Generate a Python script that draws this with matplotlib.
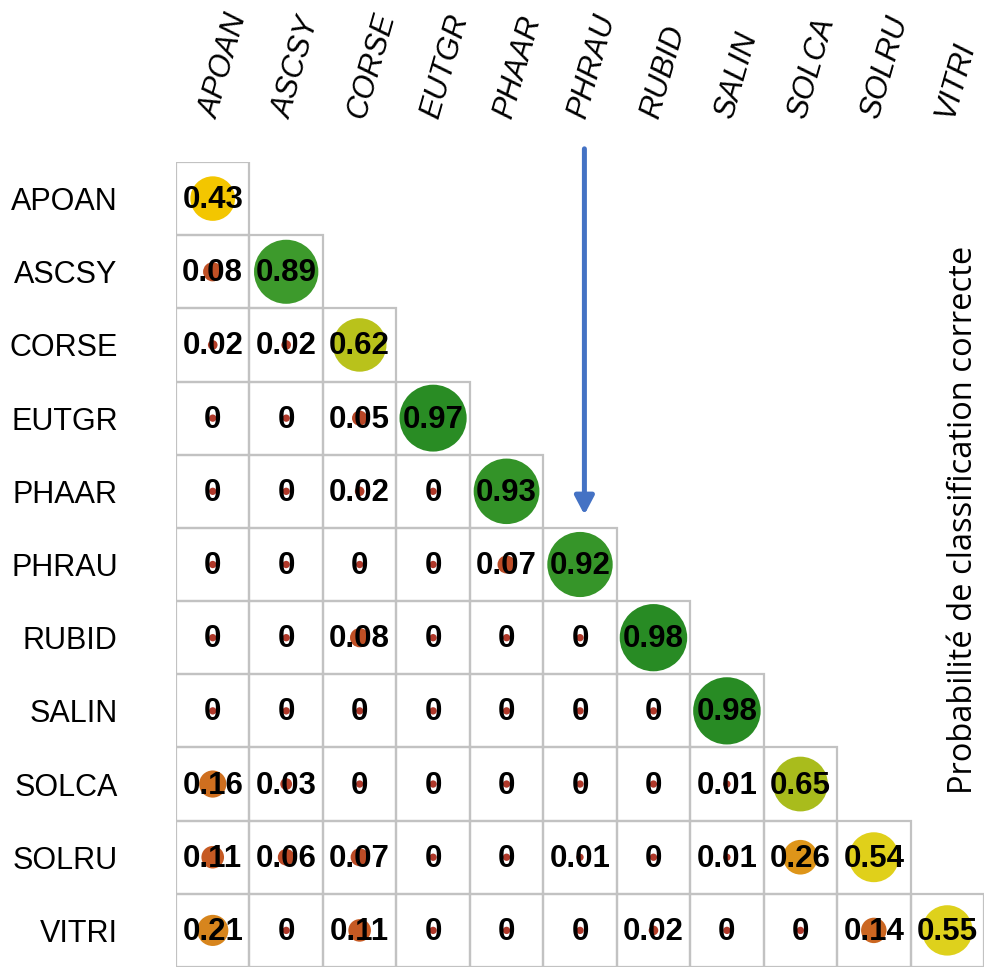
import matplotlib
matplotlib.use("Agg")
import matplotlib.pyplot as plt
from matplotlib.colors import LinearSegmentedColormap
from matplotlib.patches import Circle, Rectangle
import numpy as np

species = ["APOAN", "ASCSY", "CORSE", "EUTGR", "PHAAR", "PHRAU",
           "RUBID", "SALIN", "SOLCA", "SOLRU", "VITRI"]

row_APOAN = [0.43]
row_ASCSY = [0.08, 0.89]
row_CORSE = [0.02, 0.02, 0.62]
row_EUTGR = [0, 0, 0.05, 0.97]
row_PHAAR = [0, 0, 0.02, 0, 0.93]
row_PHRAU = [0, 0, 0, 0, 0.07, 0.92]
row_RUBID = [0, 0, 0.08, 0, 0, 0, 0.98]
row_SALIN = [0, 0, 0, 0, 0, 0, 0, 0.98]
row_SOLCA = [0.16, 0.03, 0, 0, 0, 0, 0, 0.01, 0.65]
row_SOLRU = [0.11, 0.06, 0.07, 0, 0, 0.01, 0, 0.01, 0.26, 0.54]
row_VITRI = [0.21, 0, 0.11, 0, 0, 0, 0.02, 0, 0, 0.14, 0.55]

rows = [row_APOAN, row_ASCSY, row_CORSE, row_EUTGR, row_PHAAR, row_PHRAU,
        row_RUBID, row_SALIN, row_SOLCA, row_SOLRU, row_VITRI]

side_label = "Probabilité de classification correcte"

cmap = LinearSegmentedColormap.from_list("prob", [
    (0.0, "#b0392a"), (0.1, "#c45624"), (0.16, "#d0701f"), (0.22, "#d98a1c"),
    (0.3, "#e3a015"), (0.43, "#f3c600"), (0.55, "#ded11c"), (0.63, "#b3c01b"),
    (0.76, "#78a924"), (0.89, "#3d9a2c"), (1.0, "#238822")])

W, H = 984, 967
fig = plt.figure(figsize=(W / 100, H / 100), dpi=100)
ax = fig.add_axes([176 / W, 0, 808 / W, 805 / H])
n = len(species)
ax.set_xlim(-0.5, n - 0.5)
ax.set_ylim(n - 0.5, -0.5)
for s in ax.spines.values():
    s.set_visible(False)
ax.set_xticks([])
ax.set_yticks(range(n))
ax.set_yticklabels(species, fontsize=22, family="Liberation Sans")
ax.tick_params(axis="y", length=0, pad=42)

grid_col = "#c2c2c2"
for i, row in enumerate(rows):
    for j, v in enumerate(row):
        ax.add_patch(Rectangle((j - 0.5, i - 0.5), 1, 1, fill=False,
                               edgecolor=grid_col, lw=1.6, zorder=1))
        r = max(0.464 * np.sqrt(v), 0.05)
        ax.add_patch(Circle((j, i), r, facecolor=cmap(v), edgecolor="none",
                            zorder=2))
        ax.text(j, i + 0.02, f"{v:g}", ha="center", va="center", fontsize=22.5,
                fontweight="bold", family="Liberation Sans", color="black",
                zorder=3)

for j, name in enumerate(species):
    ax.text(j - 0.04, -1.1, name, rotation=74, rotation_mode="anchor",
            ha="left", va="center", fontsize=22, style="italic",
            family="Liberation Sans", clip_on=False)

ax.annotate("", xy=(5.06, 4.32), xytext=(5.06, -0.68),
            arrowprops=dict(arrowstyle="-|>,head_length=1.1,head_width=0.58",
                            mutation_scale=10, color="#4472c4", lw=3.6,
                            shrinkA=0, shrinkB=0),
            annotation_clip=False)

fig.text(963 / W, 1 - 520 / H, side_label, rotation=90, ha="center",
         va="center", fontsize=23.5, family="Open Sans")

fig.savefig("out.png", dpi=100, facecolor="white")
